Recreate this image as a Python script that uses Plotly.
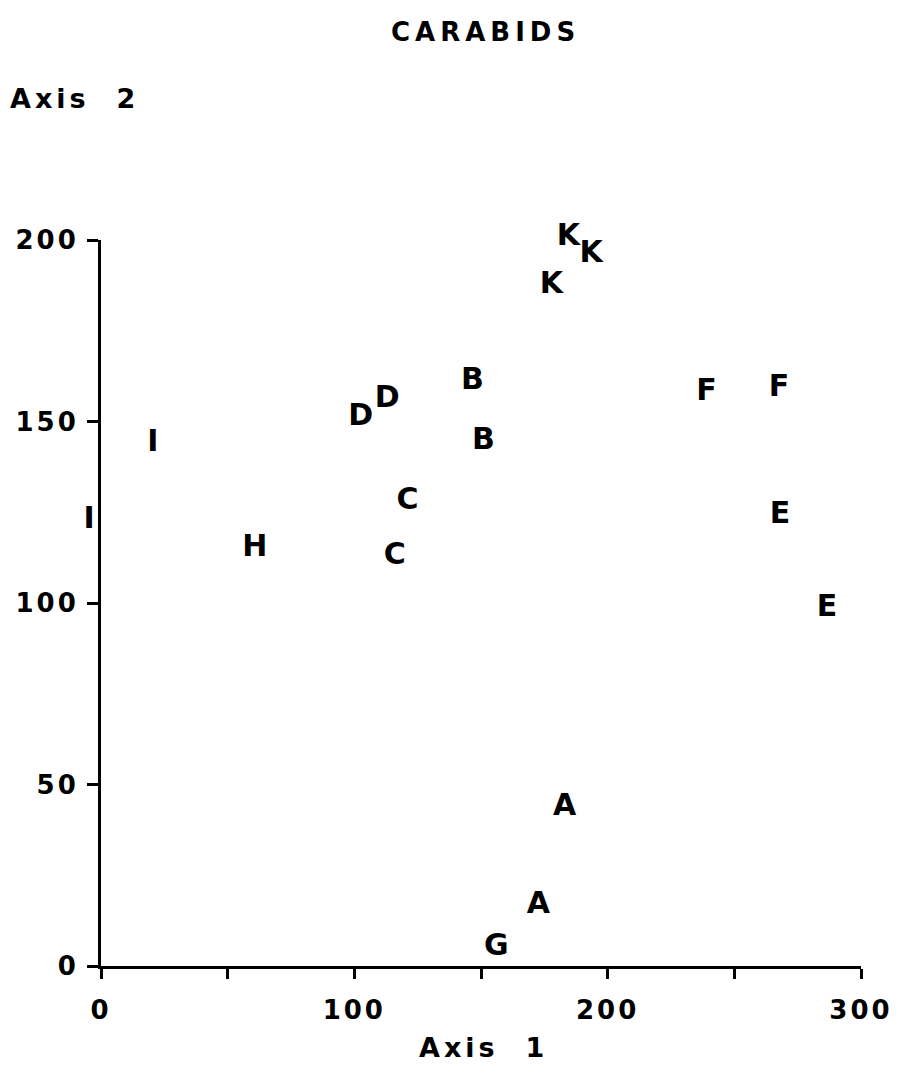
import plotly.graph_objects as go

labels = ["I", "I", "H", "D", "D", "C", "C", "B", "B", "K", "K", "K", "F", "F", "E", "E", "A", "A", "G"]
axis1 = [20.5, -4.7, 60.7, 102.5, 113, 121, 116, 146.6, 151, 184.5, 193.5, 177.8, 239, 267.6, 268, 286.6, 183, 172.6, 156]
axis2 = [144, 122.6, 115, 151, 156, 128, 112.7, 161, 144.6, 200.8, 196, 187.6, 158, 159, 124, 98.6, 43.8, 16.8, 5]

x_tickvals = [0, 50, 100, 150, 200, 250, 300]
x_ticktext = ["0", "", "100", "", "200", "", "300"]
y_tickvals = [0, 50, 100, 150, 200]
y_ticktext = ["0", "50", "100", "150", "200"]

FONT = "DejaVu Sans"
W, H = 898, 1079
# full plotting area (for the letters) in figure pixels
L, R, T, B = 40, 880, 200, 1000
# visible axes frame in figure pixels
X0, X1, Y0, Y1 = 93, 853, 958, 232
XMIN, XMAX, YMIN, YMAX = 0, 300, 0, 200

pw, ph = R - L, B - T
xd = [(X0 - L) / pw, (X1 - L) / pw]
yd = [(B - Y0) / ph, (B - Y1) / ph]
sx = (X1 - X0) / (XMAX - XMIN)
sy = (Y0 - Y1) / (YMAX - YMIN)
xfull = [XMIN - (X0 - L) / sx, XMAX + (R - X1) / sx]
yfull = [YMIN - (B - Y0) / sy, YMAX + (Y1 - T) / sy]


def spaced(s, ls):
    return f'<span style="letter-spacing:{ls}px">{s}</span>' if s else s


fig = go.Figure()
# empty trace so the visible frame axes get drawn
fig.add_trace(go.Scatter(x=[], y=[], mode="markers", xaxis="x2", yaxis="y2",
                         showlegend=False, hoverinfo="skip"))
fig.add_trace(go.Scatter(
    x=axis1, y=axis2, mode="text", text=labels,
    xaxis="x", yaxis="y",
    textposition="middle center",
    textfont=dict(family=FONT, size=30, color="black", weight="bold"),
    cliponaxis=False, showlegend=False, hoverinfo="skip",
))

axis_common = dict(
    showgrid=False, zeroline=False, showline=True, linecolor="black", linewidth=3,
    ticks="outside", tickwidth=3, tickcolor="black",
    tickfont=dict(family=FONT, size=26, color="black", weight="bold"),
)

fig.update_layout(
    width=W, height=H,
    margin=dict(l=L, r=W - R, t=T, b=H - B, autoexpand=False),
    paper_bgcolor="white", plot_bgcolor="rgba(0,0,0,0)",
    xaxis=dict(domain=[0, 1], anchor="y", range=xfull, visible=False),
    yaxis=dict(domain=[0, 1], anchor="x", range=yfull, visible=False),
    xaxis2=dict(domain=xd, anchor="y2", range=[XMIN, XMAX], tickmode="array",
                tickvals=x_tickvals, ticktext=[spaced(t, 3) for t in x_ticktext],
                ticklen=10, ticklabelstandoff=9, **axis_common),
    yaxis2=dict(domain=yd, anchor="x2", range=[YMIN, YMAX], tickmode="array",
                tickvals=y_tickvals, ticktext=[spaced(t, 3) for t in y_ticktext],
                ticklen=11, ticklabelstandoff=3, **axis_common),
    annotations=[
        dict(text=spaced("CARABIDS", 5), x=(477 - L) / pw, y=(B - 24) / ph, xref="paper", yref="paper",
             showarrow=False, xanchor="center", yanchor="middle",
             font=dict(family=FONT, size=26, color="black", weight="bold")),
        dict(text=spaced("Axis  2", 4), x=(0 - L) / pw, y=(B - 90) / ph, xref="paper", yref="paper",
             showarrow=False, xanchor="left", yanchor="middle",
             font=dict(family=FONT, size=27, color="black", weight="bold")),
        dict(text=spaced("Axis  1", 4), x=(475 - L) / pw, y=(B - 1039) / ph, xref="paper", yref="paper",
             showarrow=False, xanchor="center", yanchor="middle",
             font=dict(family=FONT, size=27, color="black", weight="bold")),
    ],
)

fig.write_html("out.html")
